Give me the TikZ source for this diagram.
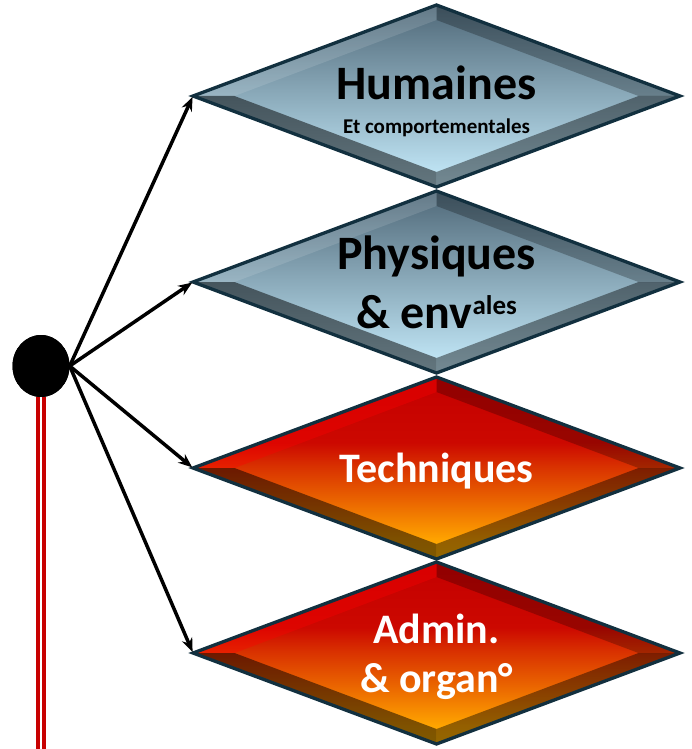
\documentclass[tikz,border=0pt]{standalone}
\usepackage{fontspec}
\setmainfont{Carlito}
\usetikzlibrary{arrows.meta,shapes.geometric}
\definecolor{edgec}{HTML}{12303F}
\definecolor{bluetop}{HTML}{4F6878}
\definecolor{bluebot}{HTML}{C8EEFE}
\definecolor{wire}{HTML}{C80000}
\pgfdeclareverticalshading{redgrad}{100bp}{%
  color(0bp)=(rgb,255:red,255;green,180;blue,0);
  color(25bp)=(rgb,255:red,255;green,180;blue,0);
  color(30bp)=(rgb,255:red,255;green,165;blue,0);
  color(41bp)=(rgb,255:red,234;green,101;blue,0);
  color(50bp)=(rgb,255:red,218;green,52;blue,0);
  color(57bp)=(rgb,255:red,204;green,8;blue,0);
  color(75bp)=(rgb,255:red,196;green,0;blue,0);
  color(100bp)=(rgb,255:red,196;green,0;blue,0)}
\tikzset{
  blueshade/.style={top color=bluetop, bottom color=bluebot},
  redshade/.style={shading=redgrad},
  bluehi/.style={fill=white, opacity=0.12},
  redhi/.style={fill=red, opacity=0.35},
  bigtext/.style={font=\bfseries\fontsize{42}{42}\selectfont, anchor=base, inner sep=0pt},
  blacktext/.style={font=\bfseries\fontsize{48}{48}\selectfont, anchor=base, inner sep=0pt},
  smalltext/.style={font=\bfseries\fontsize{21}{21}\selectfont, anchor=base, inner sep=0pt},
  link/.style={line width=3.5pt, -{Stealth[length=14pt,width=11pt]}, shorten >=1pt},
  hubstyle/.style={ellipse, fill=black, minimum width=57pt, minimum height=62pt, inner sep=0pt},
}
\newcommand\bdiamond[5]{%
  \begin{scope}[shift={(#2,#3)}]
    \shade[#4] (0,-91) -- (243.5,0) -- (0,91) -- (-243.5,0) -- cycle;
    \fill[#5] (-243.5,0) -- (0,-91) -- (0,-76) -- (-202,0) -- cycle;
    \fill[black, opacity=0.25] (0,-91) -- (243.5,0) -- (202,0) -- (0,-76) -- cycle;
    \fill[black, opacity=0.42] (243.5,0) -- (0,91) -- (0,76) -- (202,0) -- cycle;
    \fill[black, opacity=0.50] (0,91) -- (-243.5,0) -- (-202,0) -- (0,76) -- cycle;
    \draw[edgec, line width=3.3pt, line join=miter] (0,-91) -- (243.5,0) -- (0,91) -- (-243.5,0) -- cycle;
    \coordinate (#1) at (-243.5,0);
  \end{scope}}
\begin{document}
\begin{tikzpicture}[x=1pt, y=-1pt]
\useasboundingbox (0,0) rectangle (692,749);
\bdiamond{d1}{436.5}{96}{blueshade}{bluehi}
\bdiamond{d2}{436.5}{282}{blueshade}{bluehi}
\bdiamond{d3}{436.5}{468}{redshade}{redhi}
\bdiamond{d4}{436.5}{653}{redshade}{redhi}

\node[blacktext] (t1) at (436.5,100) {Humaines};
\node[smalltext] (t1b) at (436.5,133) {Et comportementales};
\node[blacktext] (t2) at (436.5,269) {Physiques};
\node[blacktext] (t2b) at (436.5,328) {\& env\raisebox{14pt}{\fontsize{27}{27}\selectfont ales}};
\node[bigtext, white] (t3) at (436.5,482) {Techniques};
\node[bigtext, white] (t4) at (436.5,643) {Admin.};
\node[bigtext, white] (t4b) at (436.5,692) {\& organ°};

\coordinate (wend) at (41,749);
\node[hubstyle] (hub) at (41,366) {};
\draw[wire, line width=3.2pt, double=white, double distance=2.8pt] (hub.south) -- (wend);
\node[hubstyle] (hubtop) at (hub) {};
\draw[link] (hub.east) -- (d1);
\draw[link] (hub.east) -- (d2);
\draw[link] (hub.east) -- (d3);
\draw[link] (hub.east) -- (d4);
\end{tikzpicture}
\end{document}
